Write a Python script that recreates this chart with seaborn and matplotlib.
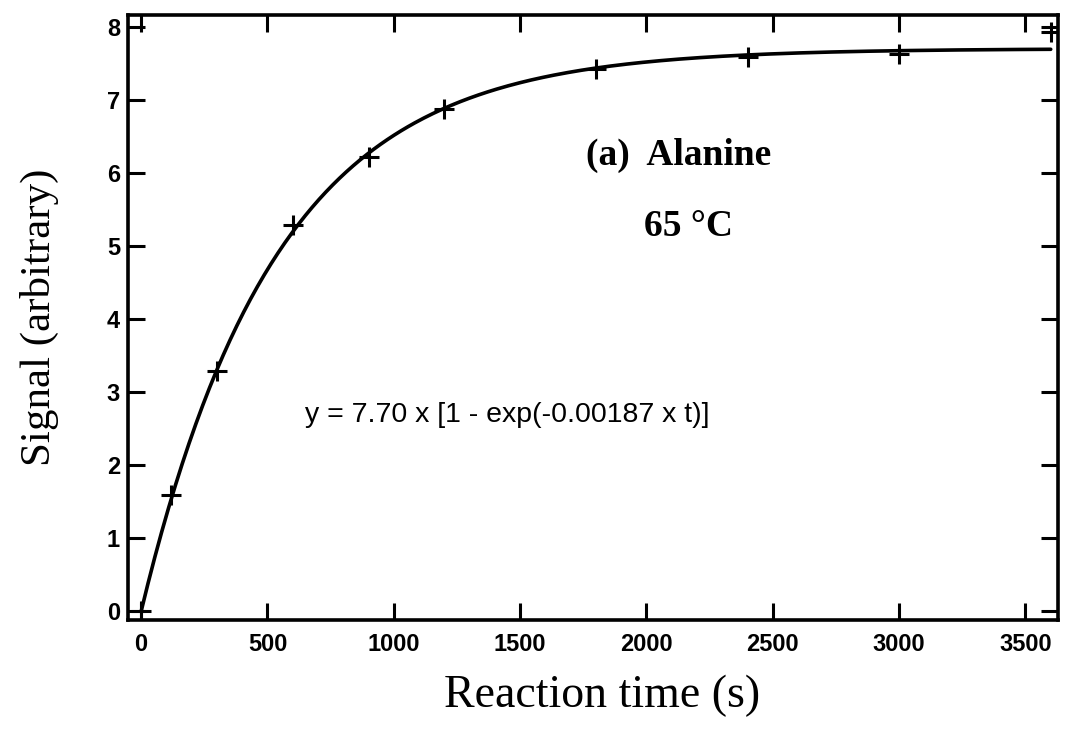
import numpy as np
import pandas as pd
import matplotlib
matplotlib.use("Agg")
import matplotlib.pyplot as plt
import seaborn as sns

# measured data
time_s = [0, 120, 300, 600, 900, 1200, 1800, 2400, 3000, 3600]
signal = [0.0, 1.59, 3.29, 5.28, 6.21, 6.88, 7.42, 7.58, 7.63, 7.93]

# fit parameters printed on the chart
fit_amplitude = 7.70
fit_rate = 0.00187
fit_t = np.linspace(0, 3600, 400)
fit_y = fit_amplitude * (1 - np.exp(-fit_rate * fit_t))

x_ticks = [0, 500, 1000, 1500, 2000, 2500, 3000, 3500]
y_ticks = [0, 1, 2, 3, 4, 5, 6, 7, 8]

sns.set_theme(style="ticks")
plt.rcParams['font.family'] = ['Liberation Sans', 'DejaVu Sans']
plt.rcParams['text.color'] = 'black'
plt.rcParams['axes.labelcolor'] = 'black'

fig = plt.figure(figsize=(10.69, 7.32), dpi=100)
ax = fig.add_axes([0.120, 0.153, 0.870, 0.8265])

df_pts = pd.DataFrame({"t": time_s, "s": signal})
df_fit = pd.DataFrame({"t": fit_t, "s": fit_y})

sns.lineplot(data=df_fit, x="t", y="s", ax=ax, color="black", linewidth=2.6)
sns.scatterplot(data=df_pts, x="t", y="s", ax=ax, marker="+", s=220,
                color="black", linewidth=2.2, zorder=5)

ax.set_xlim(-51, 3630)
ax.set_ylim(-0.12, 8.16)
ax.set_xticks(x_ticks)
ax.set_yticks(y_ticks)
ax.tick_params(direction="in", length=12, width=2.2, top=True, right=True,
               labelsize=17, colors="black")
ax.tick_params(axis="x", pad=9)
ax.tick_params(axis="y", pad=6)
for lab in ax.get_xticklabels() + ax.get_yticklabels():
    lab.set_fontweight("bold")
for sp in ax.spines.values():
    sp.set_linewidth(2.6)
    sp.set_color("black")

serif = ['Liberation Serif', 'DejaVu Serif']
ax.set_xlabel("Reaction time (s)", fontsize=33, family=serif, labelpad=14)
ax.xaxis.label.set_x(0.509)
ax.set_ylabel("Signal (arbitrary)", fontsize=31, family=serif, labelpad=34)

ax.text(0.592, 0.768, "(a)  Alanine", transform=ax.transAxes, fontsize=27,
        family=serif, fontweight="bold", ha="center", va="center")
ax.text(0.602, 0.651, "65 °C", transform=ax.transAxes, fontsize=27,
        family=serif, fontweight="bold", ha="center", va="center")
ax.text(0.19, 0.339, "y = 7.70 x [1 - exp(-0.00187 x t)]", transform=ax.transAxes,
        fontsize=20.5, ha="left", va="center")

fig.savefig("out.png", dpi=100)
